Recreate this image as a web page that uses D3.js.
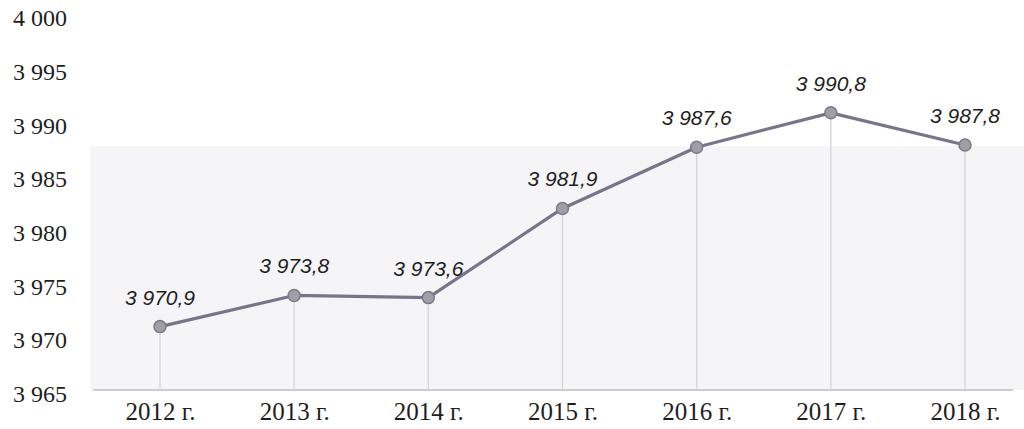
<!DOCTYPE html>
<html>
<head>
<meta charset="utf-8">
<script src="https://cdn.jsdelivr.net/npm/d3@7"></script>
<style>
  html, body { margin: 0; padding: 0; background: #ffffff; }
  svg { display: block; }
</style>
</head>
<body>
<svg id="chart" width="1024" height="429"></svg>
<script>
// Yearly values
const years = ["2012 г.", "2013 г.", "2014 г.", "2015 г.", "2016 г.", "2017 г.", "2018 г."];
const values = [3970.9, 3973.8, 3973.6, 3981.9, 3987.6, 3990.8, 3987.8];
const valueLabels = ["3 970,9", "3 973,8", "3 973,6", "3 981,9", "3 987,6", "3 990,8", "3 987,8"];
const yTicks = [3965, 3970, 3975, 3980, 3985, 3990, 3995, 4000];

const svg = d3.select("#chart");

const x = d3.scalePoint().domain(years).range([160, 965]);
const y = d3.scaleLinear().domain([3965, 4000]).range([390, 14]);

const fmt = v => d3.format(",")(v).replace(/,/g, " ");

// faint shaded backdrop of the plot area
svg.append("rect")
  .attr("x", 90).attr("y", 146)
  .attr("width", 934).attr("height", y(3965) - 146)
  .attr("fill", "#f5f5f7");

// y axis: labels only
const yAxis = d3.axisLeft(y).tickValues(yTicks).tickSize(0).tickPadding(0).tickFormat(fmt);
svg.append("g")
  .attr("transform", "translate(67,4)")
  .call(yAxis)
  .call(g => g.select(".domain").remove())
  .call(g => g.selectAll("text")
    .attr("font-family", "'Liberation Serif', serif")
    .attr("font-size", 24)
    .attr("fill", "#1e1e1e"));

// baseline
svg.append("line")
  .attr("x1", 93).attr("x2", 1013)
  .attr("y1", y(3965)).attr("y2", y(3965))
  .attr("stroke", "#bdbdc1").attr("stroke-width", 1.5);

// x axis labels
const xAxis = d3.axisBottom(x).tickSize(0).tickPadding(0);
svg.append("g")
  .attr("transform", "translate(0,402)")
  .call(xAxis)
  .call(g => g.select(".domain").remove())
  .call(g => g.selectAll("text")
    .attr("font-family", "'Liberation Serif', serif")
    .attr("font-size", 25)
    .attr("fill", "#1e1e1e"));

const data = years.map((c, i) => ({ c, v: values[i], label: valueLabels[i] }));

// drop lines from each point to the baseline
svg.append("g").selectAll("line")
  .data(data).join("line")
  .attr("x1", d => x(d.c)).attr("x2", d => x(d.c))
  .attr("y1", d => y(d.v)).attr("y2", y(3965))
  .attr("stroke", "#d2d2d5").attr("stroke-width", 1.2);

// series line
svg.append("path")
  .datum(data)
  .attr("fill", "none")
  .attr("stroke", "#7a748b")
  .attr("stroke-width", 3.2)
  .attr("stroke-linejoin", "round")
  .attr("d", d3.line().x(d => x(d.c)).y(d => y(d.v)));

// markers
svg.append("g").selectAll("circle")
  .data(data).join("circle")
  .attr("cx", d => x(d.c)).attr("cy", d => y(d.v))
  .attr("r", 6)
  .attr("fill", "#a09fa8")
  .attr("stroke", "#7d7a89").attr("stroke-width", 1.5);

// value labels
svg.append("g").selectAll("text")
  .data(data).join("text")
  .attr("x", d => x(d.c))
  .attr("y", d => y(d.v) - 22)
  .attr("text-anchor", "middle")
  .attr("font-family", "'Liberation Sans', sans-serif")
  .attr("font-style", "italic")
  .attr("font-size", 21)
  .attr("fill", "#1e1e1e")
  .text(d => d.label);
</script>
</body>
</html>
